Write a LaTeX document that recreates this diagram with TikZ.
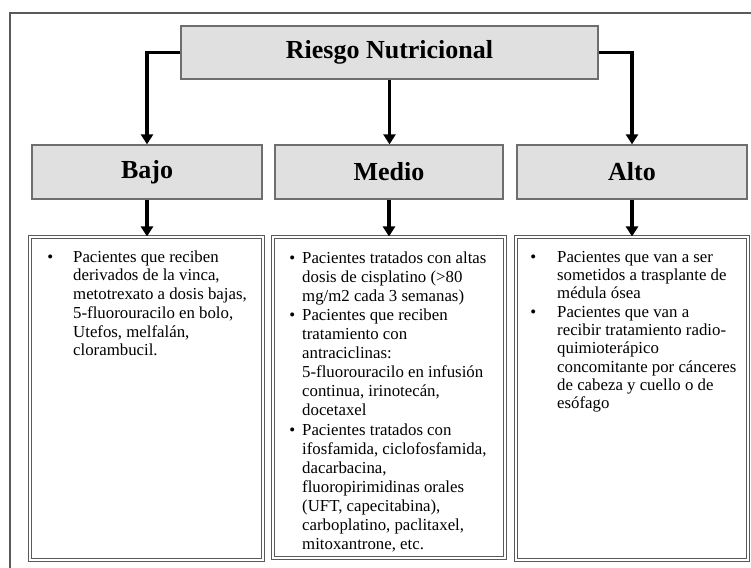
\documentclass[tikz,border=0pt]{standalone}
\usepackage{fontspec}
\setmainfont{Liberation Serif}
\usetikzlibrary{arrows.meta}
\definecolor{boxfill}{HTML}{E0E0E0}
\definecolor{boxline}{HTML}{6E6E6E}
\definecolor{frameline}{HTML}{5A5A5A}
\newcommand\bitem[1]{\makebox[0pt][r]{\textbullet\hspace{#1}}}
\begin{document}
\begin{tikzpicture}[x=1pt,y=-1pt,
  graybox/.style={draw=boxline, fill=boxfill, line width=1.3pt, inner sep=0pt,
    font=\fontsize{26}{30}\selectfont\bfseries},
  listbox/.style={draw=frameline, double=white, double distance=1.2pt, line width=1.1pt, inner sep=0pt},
  conn/.style={line width=3.6pt, -{Triangle[length=10pt,width=12pt]}},
  txt/.style={anchor=north west, inner sep=0pt, align=left},
  frame/.style={draw=frameline, line width=1.2pt}
  ]
\useasboundingbox (0,0) rectangle (751,567);
\fill[white] (0,0) rectangle (751,567);
% outer frame (clipped on right and bottom)
\draw[frame] (10,580) -- (10,13) -- (770,13);

% top box
\node[graybox, minimum width=417pt, minimum height=53pt] (riesgo) at (389.5,52.5) {Riesgo Nutricional};

% level boxes
\node[graybox, minimum width=230pt, minimum height=54pt] (bajo)  at (147,172) {Bajo};
\node[graybox, minimum width=228pt, minimum height=54pt] (medio) at (389,172) {Medio};
\node[graybox, minimum width=230pt, minimum height=54pt] (alto)  at (632,172) {Alto};

% list boxes
\node[listbox, minimum width=233pt, minimum height=323pt] (lb) at (146.5,398.5) {};
\node[listbox, minimum width=232pt, minimum height=321pt] (lm) at (389,397.5) {};
\node[listbox, minimum width=232pt, minimum height=323pt] (la) at (632,398.5) {};

% connectors
\draw[conn] (riesgo.west) -| (bajo.north);
\draw[conn] (riesgo.south) -- (riesgo.south |- medio.north);
\draw[conn] (riesgo.east) -| (alto.north);
\draw[conn] (bajo.south) -- (bajo.south |- lb.north);
\draw[conn] (medio.south) -- (medio.south |- lm.north);
\draw[conn] (alto.south) -- (alto.south |- la.north);

% texts
\node[txt, font=\fontsize{16.8}{18.7}\selectfont] (tb) at (73,249) {%
\begin{tabular}{@{}l@{}}
\bitem{20pt}Pacientes que reciben\\
derivados de la vinca,\\
metotrexato a dosis bajas,\\
5-fluorouracilo en bolo,\\
Utefos, melfalán,\\
clorambucil.
\end{tabular}};

\node[txt, font=\fontsize{16.8}{19.1}\selectfont] (tm) at (302,249.6) {%
\begin{tabular}{@{}l@{}}
\bitem{7pt}Pacientes tratados con altas\\
dosis de cisplatino (>80\\
mg/m2 cada 3 semanas)\\
\bitem{7pt}Pacientes que reciben\\
tratamiento con\\
antraciclinas:\\
5-fluorouracilo en infusión\\
continua, irinotecán,\\
docetaxel\\
\bitem{7pt}Pacientes tratados con\\
ifosfamida, ciclofosfamida,\\
dacarbacina,\\
fluoropirimidinas orales\\
(UFT, capecitabina),\\
carboplatino, paclitaxel,\\
mitoxantrone, etc.
\end{tabular}};

\node[txt, font=\fontsize{16.8}{18.3}\selectfont] (ta) at (557,249.2) {%
\begin{tabular}{@{}l@{}}
\bitem{21pt}Pacientes que van a ser\\
sometidos a trasplante de\\
médula ósea\\
\bitem{21pt}Pacientes que van a\\
recibir tratamiento radio-\\
quimioterápico\\
concomitante por cánceres\\
de cabeza y cuello o de\\
esófago
\end{tabular}};
\end{tikzpicture}
\end{document}
